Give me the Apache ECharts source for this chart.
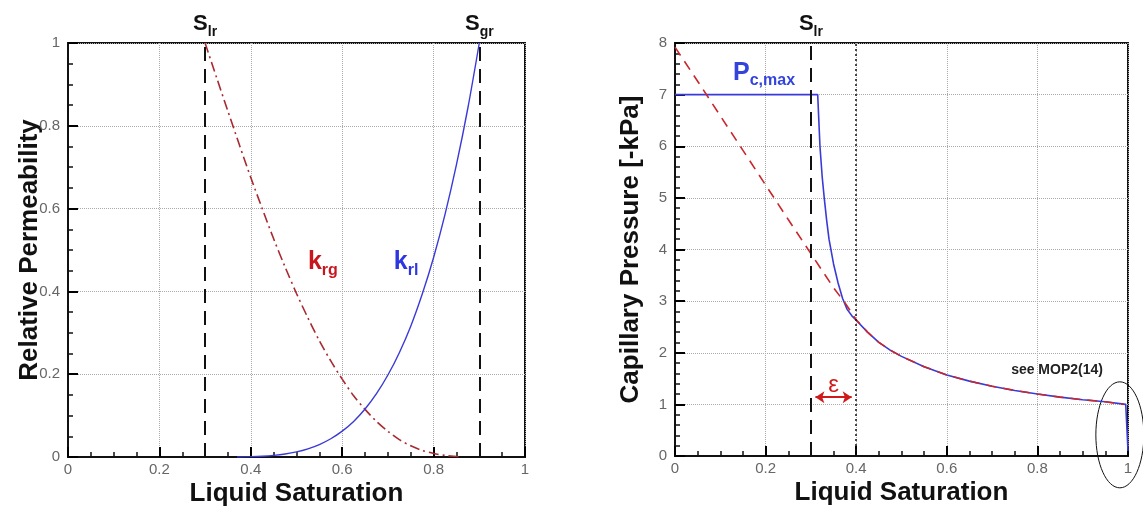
<!DOCTYPE html>
<html>
<head>
<meta charset="utf-8">
<script src="https://cdn.jsdelivr.net/npm/echarts@6/dist/echarts.min.js"></script>
<style>
  html, body { margin: 0; background: #fff; }
  #chart { width: 1143px; height: 510px; }
</style>
</head>
<body>
<div id="chart"></div>
<script>
// left panel: relative permeability vs liquid saturation
const krgSat = [0.3, 0.325, 0.35, 0.375, 0.4, 0.425, 0.45, 0.475, 0.5, 0.525, 0.55, 0.575, 0.6,
  0.625, 0.65, 0.675, 0.7, 0.725, 0.75, 0.775, 0.8, 0.825, 0.85, 0.86];
const krg = [1.0, 0.917, 0.835, 0.754, 0.675, 0.600, 0.527, 0.459, 0.395, 0.336, 0.281, 0.232, 0.188,
  0.148, 0.115, 0.086, 0.062, 0.042, 0.027, 0.016, 0.0085, 0.0037, 0.0011, 0.0];
const krlSat = [0.37, 0.4, 0.425, 0.45, 0.475, 0.5, 0.525, 0.55, 0.575, 0.6, 0.625, 0.65, 0.675,
  0.7, 0.725, 0.75, 0.775, 0.8, 0.825, 0.85, 0.875, 0.9];
const krl = [0.0, 0.0008, 0.0019, 0.0039, 0.0072, 0.0123, 0.0198, 0.0301, 0.0441, 0.0625, 0.086, 0.116, 0.153,
  0.198, 0.252, 0.316, 0.393, 0.482, 0.586, 0.706, 0.843, 1.0];
const lineMarksL = [0.3, 0.9];
const lineNamesL = ['lr', 'gr'];

// right panel: capillary pressure vs liquid saturation
const pcSat = [0, 0.315, 0.32, 0.325, 0.33, 0.335, 0.34, 0.35, 0.36, 0.37, 0.38, 0.39, 0.4, 0.425, 0.45,
  0.475, 0.5, 0.55, 0.6, 0.65, 0.7, 0.75, 0.8, 0.85, 0.9, 0.95, 0.995, 1.0];
const pcMod = [7, 7, 6.0, 5.4, 4.95, 4.55, 4.2, 3.72, 3.35, 3.05, 2.84, 2.72, 2.63, 2.4, 2.2,
  2.05, 1.93, 1.73, 1.57, 1.45, 1.35, 1.27, 1.2, 1.14, 1.09, 1.05, 1.0, 0.1];
const pcOrigSat = [0, 0.05, 0.1, 0.15, 0.2, 0.25, 0.3, 0.35, 0.375, 0.4, 0.425, 0.45, 0.475, 0.5,
  0.55, 0.6, 0.65, 0.7, 0.75, 0.8, 0.85, 0.9, 0.95, 0.99];
const pcOrig = [7.92, 7.26, 6.59, 5.92, 5.25, 4.58, 3.92, 3.26, 2.97, 2.64, 2.4, 2.2, 2.05, 1.93,
  1.73, 1.57, 1.45, 1.35, 1.27, 1.2, 1.14, 1.09, 1.05, 1.0];

const font = 'Liberation Sans';
const zip = (xs, ys) => xs.map((x, i) => [x, ys[i]]);

const tickCommon = {
  axisLine: {show: true, lineStyle: {color: '#111', width: 2}},
  axisTick: {show: true, inside: true, length: 10, lineStyle: {color: '#000', width: 2}},
  axisLabel: {fontFamily: font, fontSize: 15, color: '#666'},
  splitLine: {show: true, lineStyle: {color: '#aaa', type: 'dotted'}},
  nameLocation: 'middle', nameMoveOverlap: false,
  nameTextStyle: {fontFamily: font, fontSize: 26, fontWeight: 'bold', color: '#111'}
};

function xAxisOf(gridIndex) {
  return Object.assign({}, tickCommon, {
    type: 'value', gridIndex, min: 0, max: 1, interval: 0.2,
    name: 'Liquid Saturation', nameGap: 24,
    minorTick: {show: true, splitNumber: 4, length: 5, lineStyle: {color: '#111', width: 1.5}},
    axisLabel: Object.assign({}, tickCommon.axisLabel, {margin: 5})
  });
}
function yAxisOf(gridIndex, max, interval, minor, name, gap) {
  return Object.assign({}, tickCommon, {
    type: 'value', gridIndex, min: 0, max, interval,
    name, nameGap: gap,
    minorTick: {show: true, splitNumber: minor, length: 5, lineStyle: {color: '#111', width: 1.5}},
    axisLabel: Object.assign({}, tickCommon.axisLabel, {margin: 8})
  });
}

const subRich = {
  s: {fontFamily: font, fontSize: 22, fontWeight: 'bold', color: '#111', lineHeight: 30},
  b: {fontFamily: font, fontSize: 14, fontWeight: 'bold', color: '#111', lineHeight: 14, verticalAlign: 'bottom'}
};

const chart = echarts.init(document.getElementById('chart'));
const option = {
  animation: false,
  grid: [
    {left: 68, right: 618, top: 43, bottom: 53, show: true, borderColor: '#111', borderWidth: 2,
      outerBoundsMode: 'none'},
    {left: 675, right: 15, top: 43, bottom: 54, show: true, borderColor: '#111', borderWidth: 2,
      outerBoundsMode: 'none'}
  ],
  xAxis: [xAxisOf(0), xAxisOf(1)],
  yAxis: [
    yAxisOf(0, 1, 0.2, 4, 'Relative Permeability', 25),
    yAxisOf(1, 8, 1, 5, 'Capillary Pressure [-kPa]', 31)
  ],
  series: [
    {
      name: 'krg', type: 'line', xAxisIndex: 0, yAxisIndex: 0, showSymbol: false,
      smooth: 0.3,
      lineStyle: {color: '#a82a30', width: 1.6, type: [10, 4, 2, 4]},
      data: zip(krgSat, krg),
      markLine: {
        silent: true, symbol: 'none',
        lineStyle: {color: '#111', width: 2, type: [14, 8]},
        label: {position: 'end', distance: 4, rich: subRich},
        data: lineMarksL.map((x, i) => ({xAxis: x, label: {formatter: '{s|S}{b|' + lineNamesL[i] + '}'}}))
      },
      markPoint: {
        symbol: 'circle', symbolSize: 0, silent: true,
        label: {
          show: true, position: 'right', distance: 0,
          rich: {
            k: {fontFamily: font, fontSize: 25, fontWeight: 'bold', lineHeight: 32},
            r: {fontFamily: font, fontSize: 16, fontWeight: 'bold', lineHeight: 16, verticalAlign: 'bottom'}
          }
        },
        data: [
          {coord: [0.525, 0.47], label: {formatter: '{k|k}{r|rg}', color: '#c8161e'}},
          {coord: [0.713, 0.47], label: {formatter: '{k|k}{r|rl}', color: '#2d36e0'}}
        ]
      }
    },
    {
      name: 'krl', type: 'line', xAxisIndex: 0, yAxisIndex: 0, showSymbol: false,
      smooth: 0.3,
      lineStyle: {color: '#3a3ad8', width: 1.4},
      data: zip(krlSat, krl)
    },
    {
      name: 'pc modified', type: 'line', xAxisIndex: 1, yAxisIndex: 1, showSymbol: false,
      z: 2,
      lineStyle: {color: '#3a3ad8', width: 1.6},
      data: zip(pcSat, pcMod),
      markLine: {
        silent: true, symbol: 'none',
        label: {position: 'end', distance: 4, rich: subRich},
        data: [
          {xAxis: 0.3, lineStyle: {color: '#111', width: 2, type: [14, 8]},
            label: {formatter: '{s|S}{b|lr}'}},
          {xAxis: 0.4, lineStyle: {color: '#111', width: 1.5, type: [2, 3]},
            label: {show: false}}
        ]
      },
      markPoint: {
        symbol: 'circle', symbolSize: 0, silent: true,
        label: {show: true, position: 'right', distance: 0},
        data: [
          {coord: [0.128, 7.42], label: {
            formatter: '{p|P}{c|c,max}',
            rich: {
              p: {fontFamily: font, fontSize: 25, fontWeight: 'bold', color: '#3344dd', lineHeight: 32},
              c: {fontFamily: font, fontSize: 16, fontWeight: 'bold', color: '#3344dd', lineHeight: 16, verticalAlign: 'bottom'}
            }
          }},
          {coord: [0.742, 1.67], label: {
            formatter: 'see MOP2(14)', fontFamily: font, fontSize: 14, fontWeight: 'bold', color: '#222'
          }}
        ]
      }
    },
    {
      name: 'pc original', type: 'line', xAxisIndex: 1, yAxisIndex: 1, showSymbol: false,
      z: 3,
      lineStyle: {color: '#c8282d', width: 1.6, type: [10, 7]},
      data: zip(pcOrigSat, pcOrig),
      markLine: {
        silent: true, symbol: ['arrow', 'arrow'], symbolSize: 9,
        lineStyle: {color: '#d01a1a', width: 2, type: 'solid'},
        label: {position: 'middle', formatter: 'ε', fontFamily: font, fontSize: 24, color: '#d01a1a', distance: 0},
        data: [[{coord: [0.31, 1.14]}, {coord: [0.39, 1.14]}]]
      }
    }
  ]
};
chart.setOption(option);

// ellipse around the end of the curve, centred through the axis scales
const c = chart.convertToPixel({gridIndex: 1}, [0.982, 0.41]);
chart.setOption({
  graphic: [{
    type: 'ellipse',
    shape: {cx: c[0], cy: c[1], rx: 24, ry: 53},
    style: {fill: 'none', stroke: '#111', lineWidth: 1},
    silent: true
  }]
});
</script>
</body>
</html>
